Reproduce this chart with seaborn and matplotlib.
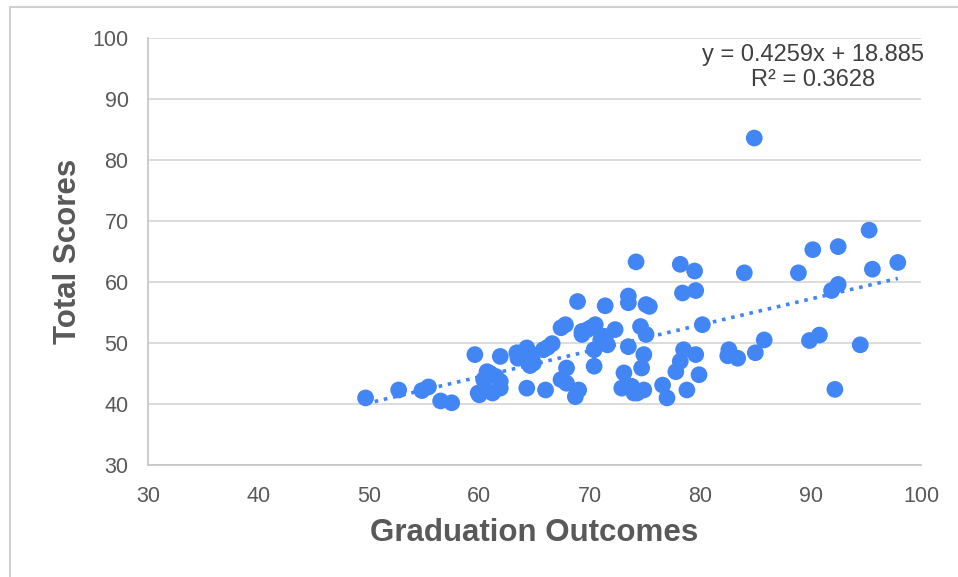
import matplotlib
matplotlib.use("Agg")
import matplotlib.pyplot as plt
from matplotlib.lines import Line2D
import seaborn as sns
import pandas as pd

# Graduation outcomes (x) vs total scores (y)
graduation = [
    49.7, 52.7, 54.8, 55.4, 56.5, 57.5, 59.6, 59.9, 60.7, 60.4,
    61.5, 61.9, 60.6, 61.2, 61.9, 61.0, 61.9, 63.4, 64.3, 64.8,
    64.6, 64.9, 63.5, 65.8, 66.6, 66.2, 67.4, 67.8, 67.9, 67.4,
    67.9, 69.0, 68.7, 64.3, 66.0, 68.9, 69.3, 70.1, 70.5, 69.8,
    71.3, 72.3, 70.4, 71.6, 70.4, 71.4, 73.5, 73.5, 75.1, 75.4,
    74.2, 74.6, 75.1, 73.5, 74.9, 74.7, 73.1, 72.9, 74.0, 74.9,
    76.6, 77.0, 78.2, 79.5, 78.4, 79.6, 80.2, 78.5, 79.6, 78.2,
    77.8, 79.9, 78.8, 82.6, 82.5, 83.4, 85.8, 85.0, 84.0, 84.9,
    88.9, 89.9, 90.8, 90.2, 92.5, 91.9, 92.5, 92.2, 94.5, 95.3,
    95.6, 97.9, 69.3, 71.0, 71.4, 73.8, 74.3, 60.0,
]
total_scores = [
    41.0, 42.3, 42.2, 42.8, 40.5, 40.2, 48.1, 41.8, 45.3, 44.0,
    44.5, 43.7, 42.3, 41.8, 42.6, 45.0, 47.8, 48.4, 49.2, 48.1,
    46.3, 46.7, 47.5, 48.9, 49.9, 49.3, 52.5, 53.0, 45.9, 44.0,
    43.4, 42.3, 41.2, 42.6, 42.3, 56.8, 51.9, 52.5, 53.0, 52.2,
    51.1, 52.2, 48.9, 49.7, 46.2, 56.1, 57.7, 56.6, 56.3, 56.0,
    63.3, 52.7, 51.4, 49.4, 48.1, 45.9, 45.1, 42.6, 41.8, 42.3,
    43.1, 41.0, 62.9, 61.8, 58.2, 58.6, 53.0, 48.9, 48.1, 47.0,
    45.3, 44.8, 42.3, 48.9, 47.9, 47.5, 50.5, 48.4, 61.5, 83.6,
    61.5, 50.4, 51.3, 65.3, 65.8, 58.6, 59.6, 42.4, 49.7, 68.5,
    62.1, 63.2, 51.4, 50.5, 50.8, 42.9, 41.8, 41.5,
]

# Linear trendline coefficients shown in the equation label
slope = 0.4259
intercept = 18.885
r_squared = 0.3628

x_ticks = [30, 40, 50, 60, 70, 80, 90, 100]
y_ticks = [30, 40, 50, 60, 70, 80, 90, 100]

df = pd.DataFrame({"Graduation Outcomes": graduation, "Total Scores": total_scores})
trend_x = [min(graduation), max(graduation)]
trend = pd.DataFrame({"x": trend_x, "y": [slope * v + intercept for v in trend_x]})

sns.set_style("white")
plt.rcParams["font.family"] = ["Liberation Sans", "DejaVu Sans"]

blue = "#4285F4"
text_grey = "#595959"

fig = plt.figure(figsize=(9.58, 5.77), dpi=100)
ax = fig.add_axes([148 / 958, 1 - 465 / 577, (921 - 148) / 958, (465 - 38) / 577])

sns.scatterplot(data=df, x="Graduation Outcomes", y="Total Scores", ax=ax,
                color=blue, s=145, edgecolor="none", linewidth=0, zorder=3)
sns.lineplot(data=trend, x="x", y="y", ax=ax, color=blue, linestyle=(0, (1, 1.6)),
             linewidth=2.6, zorder=2)

ax.set_xlim(30, 100)
ax.set_ylim(30, 100)
ax.set_xticks(x_ticks)
ax.set_yticks(y_ticks)
ax.grid(axis="y", color="#d9d9d9", linewidth=1.3)
ax.grid(axis="x", visible=False)
ax.set_axisbelow(True)

for side in ["top", "right"]:
    ax.spines[side].set_visible(False)
for side in ["left", "bottom"]:
    ax.spines[side].set_color("#c8c8c8")
    ax.spines[side].set_linewidth(1.3)

ax.tick_params(axis="both", length=0, labelsize=15.5, colors=text_grey)
ax.tick_params(axis="x", pad=15)
ax.tick_params(axis="y", pad=14)
ax.set_xlabel("Graduation Outcomes", fontsize=22.5, fontweight="bold", color=text_grey, labelpad=8)
ax.set_ylabel("Total Scores", fontsize=22.5, fontweight="bold", color=text_grey, labelpad=7)

ax.text(90.2, 99.0, f"y = {slope}x + {intercept}\nR² = {r_squared}",
        ha="center", va="top", fontsize=17, color="#404040", linespacing=1.15)

# outer frame lines
fig.add_artist(Line2D([10 / 958, 10 / 958], [0, 1 - 7 / 577], color="#d0d0d0", linewidth=1.5))
fig.add_artist(Line2D([10 / 958, 1], [1 - 7 / 577, 1 - 7 / 577], color="#d0d0d0", linewidth=1.5))

fig.savefig("out.png", dpi=100)
